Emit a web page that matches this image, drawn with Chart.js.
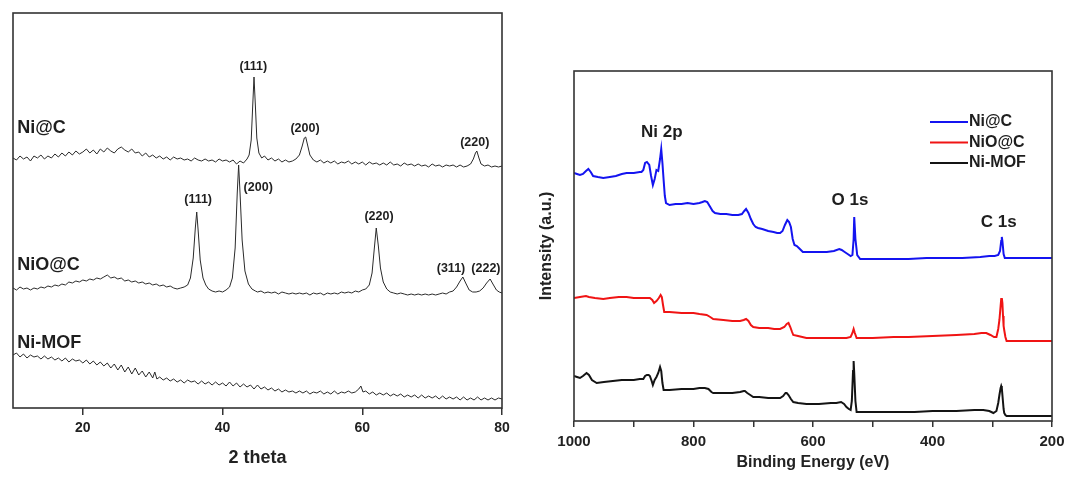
<!DOCTYPE html>
<html lang="en">
<head>
<meta charset="UTF-8">
<title>XRD / XPS</title>
<script src="https://cdn.jsdelivr.net/npm/chart.js"></script>
<style>
  body { margin: 0; background: #fff; }
  #wrap { position: relative; width: 1067px; height: 477px; }
  #xrd { position: absolute; left: 0; top: 0; }
  #xps { position: absolute; left: 520px; top: 0; }
</style>
</head>
<body>
<div id="wrap">
  <canvas id="xrd" width="520" height="477"></canvas>
  <canvas id="xps" width="547" height="477"></canvas>
</div>
<script>
// ---- XRD (left): [2 theta, intensity a.u.] ----
const xrdTicks = [20, 40, 60, 80];
const xrdNiC = [[10,250],[10.5,248],[11,252],[11.5,249],[12,251],[12.5,247],[13,252],[13.5,250],[14,253],[14.5,249],[15,252],[15.5,250],[16,254],[16.5,251],[17,255],[17.5,252],[18,256],[18.5,253],[19,257],[19.5,254],[20,256],[20.5,259],[21,255],[21.5,258],[22,254],[22.5,259],[23,256],[23.5,260],[24,257],[24.5,255],[25,259],[25.5,261],[26,258],[26.5,256],[27,259],[27.5,255],[28,256],[28.5,252],[29,255],[29.5,251],[30,253],[30.5,250],[31,252],[31.5,249],[32,251],[32.5,248],[33,251],[33.5,249],[34,250],[34.5,248],[35,249],[35.5,247],[36,250],[36.5,248],[37,247],[37.5,249],[38,247],[38.5,248],[39,246],[39.5,249],[40,247],[40.5,248],[41,246],[41.5,248],[42,244],[42.5,247],[43,245],[43.5,249],[43.8,253],[44.1,268],[44.3,300],[44.5,331],[44.7,302],[44.9,270],[45.2,255],[45.6,250],[46,252],[46.5,248],[47,250],[47.5,247],[48,249],[48.5,246],[49,248],[49.5,246],[50,247],[50.5,249],[51,253],[51.4,262],[51.7,270],[51.9,271],[52.2,262],[52.5,253],[53,248],[53.5,246],[54,248],[54.5,245],[55,247],[55.5,245],[56,247],[56.5,244],[57,246],[57.5,245],[58,247],[58.5,244],[59,246],[59.5,244],[60,246],[60.5,243],[61,246],[61.5,244],[62,245],[62.5,243],[63,245],[63.5,243],[64,246],[64.5,243],[65,244],[65.5,242],[66,245],[66.5,243],[67,244],[67.5,242],[68,244],[68.5,242],[69,243],[69.5,241],[70,244],[70.5,242],[71,243],[71.5,241],[72,243],[72.5,242],[73,243],[73.5,241],[74,243],[74.5,241],[75,242],[75.5,244],[75.9,249],[76.2,255],[76.4,257],[76.7,250],[77,244],[77.5,242],[78,243],[78.5,241],[79,242],[79.5,241],[80,242]];
const xrdNiOC = [[10,120],[10.5,118],[11,121],[11.5,119],[12,120],[12.5,118],[13,120],[13.5,119],[14,121],[14.5,120],[15,122],[15.5,121],[16,123],[16.5,122],[17,124],[17.5,123],[18,126],[18.5,125],[19,127],[19.5,126],[20,128],[20.5,127],[21,129],[21.5,128],[22,130],[22.5,129],[23,131],[23.5,133],[24,130],[24.5,131],[25,129],[25.5,130],[26,127],[26.5,128],[27,126],[27.5,127],[28,125],[28.5,126],[29,124],[29.5,125],[30,123],[30.5,124],[31,122],[31.5,123],[32,121],[32.5,122],[33,120],[33.5,119],[34,120],[34.5,121],[35,123],[35.4,130],[35.8,150],[36.1,180],[36.3,196],[36.5,178],[36.8,148],[37.2,130],[37.6,123],[38,119],[38.5,117],[39,116],[39.5,117],[40,116],[40.5,118],[41,121],[41.4,130],[41.8,160],[42.1,215],[42.3,243],[42.5,215],[42.8,168],[43.2,137],[43.7,124],[44.2,119],[44.7,117],[45,116],[45.5,117],[46,115],[46.5,116],[47,115],[47.5,116],[48,114],[48.5,116],[49,115],[49.5,114],[50,115],[50.5,114],[51,115],[51.5,114],[52,115],[52.5,113],[53,115],[53.5,114],[54,115],[54.5,113],[55,115],[55.5,114],[56,115],[56.5,114],[57,116],[57.5,115],[58,116],[58.5,115],[59,117],[59.5,116],[60,118],[60.5,119],[61,123],[61.4,135],[61.7,158],[62,180],[62.3,162],[62.6,140],[63,126],[63.5,119],[64,116],[64.5,115],[65,114],[65.5,115],[66,114],[66.5,113],[67,114],[67.5,113],[68,114],[68.5,113],[69,114],[69.5,113],[70,114],[70.5,113],[71,114],[71.5,115],[72,114],[72.5,116],[73,117],[73.5,121],[74,127],[74.4,131],[74.8,125],[75.3,118],[75.8,116],[76.3,116],[76.8,117],[77.3,120],[77.8,125],[78.3,129],[78.7,124],[79.2,118],[79.6,116],[80,115]];
const xrdNiMOF = [[10,53],[10.5,55],[11,51],[11.5,54],[12,50],[12.5,53],[13,51],[13.5,52],[14,49],[14.5,52],[15,49],[15.5,51],[16,48],[16.5,50],[17,47],[17.5,50],[18,46],[18.5,49],[19,47],[19.5,48],[20,45],[20.5,48],[21,44],[21.5,47],[22,43],[22.5,46],[23,42],[23.5,45],[24,40],[24.5,44],[25,38],[25.5,43],[26,36],[26.5,41],[27,34],[27.5,40],[28,33],[28.5,37],[29,31],[29.5,36],[30,30],[30.3,36],[30.6,29],[31,31],[31.5,28],[32,30],[32.5,27],[33,29],[33.5,26],[34,28],[34.5,25],[35,28],[35.5,26],[36,27],[36.5,24],[37,27],[37.5,24],[38,26],[38.5,23],[39,26],[39.5,23],[40,25],[40.5,22],[41,26],[41.5,22],[42,25],[42.5,21],[43,24],[43.5,21],[44,23],[44.5,19],[45,23],[45.5,19],[46,21],[46.5,18],[47,20],[47.5,17],[48,19],[48.5,16],[49,18],[49.5,16],[50,17],[50.5,15],[51,17],[51.5,15],[52,17],[52.5,14],[53,16],[53.5,15],[54,17],[54.5,14],[55,16],[55.5,14],[56,17],[56.5,14],[57,16],[57.5,15],[58,17],[58.5,15],[59,16],[59.5,19],[59.8,22],[60.1,16],[60.5,17],[61,14],[61.5,16],[62,13],[62.5,15],[63,13],[63.5,15],[64,12],[64.5,14],[65,12],[65.5,14],[66,11],[66.5,13],[67,11],[67.5,13],[68,10],[68.5,13],[69,10],[69.5,12],[70,10],[70.5,12],[71,9],[71.5,12],[72,9],[72.5,11],[73,9],[73.5,11],[74,8],[74.5,11],[75,8],[75.5,10],[76,8],[76.5,11],[77,8],[77.5,10],[78,8],[78.5,10],[79,8],[79.5,10],[80,9]];
const xrdNames = [{text:'Ni@C', x:10.6, y:280}, {text:'NiO@C', x:10.6, y:143}, {text:'Ni-MOF', x:10.6, y:65}];
const xrdPeaks = [
  {text:'(111)', x:44.4, y:341}, {text:'(200)', x:51.8, y:279}, {text:'(220)', x:76.1, y:265},
  {text:'(111)', x:36.5, y:208}, {text:'(200)', x:45.1, y:220}, {text:'(220)', x:62.4, y:191},
  {text:'(311)', x:72.7, y:139}, {text:'(222)', x:77.7, y:139}
];

// ---- XPS (right): [binding energy eV, intensity a.u.] ----
const xpsTicks = [1000, 900, 800, 700, 600, 500, 400, 300, 200];
const xpsNiC = [[1000,248],[995,247],[990,246],[985,247],[980,250],[976,252],[972,249],[968,245],[960,244],[951,243],[940,244],[930,245],[920,247],[912,248],[900,248],[890,249],[887,249],[884,251],[881,258],[878,259],[874,256],[871,245],[868,236],[865,242],[862,251],[859,250],[856,262],[854,272],[852,258],[850,241],[848,225],[846,218],[840,216],[830,217],[820,217],[810,218],[800,217],[790,218],[785,219],[781,220],[777,219],[772,214],[768,210],[764,208],[755,207],[745,207],[735,206],[725,206],[719,207],[715,210],[712,212],[708,208],[704,202],[700,197],[696,194],[692,193],[685,192],[675,190],[666,189],[660,188],[655,188],[651,190],[647,196],[643,201],[640,199],[637,194],[634,182],[631,176],[627,175],[622,172],[617,169],[612,169],[600,169],[590,169],[577,169],[565,170],[556,172],[552,171],[547,169],[542,167],[537,165],[534,166],[532,182],[531,204],[529,182],[526,166],[521,162],[510,162],[490,162],[465,162],[440,162],[410,163],[380,163],[350,163],[320,164],[305,165],[296,165],[290,166],[287,170],[285,180],[284,184],[283,180],[281,167],[279,163],[276,163],[260,163],[240,163],[220,163],[200,163]];
const xpsNiOC = [[1000,123],[990,124],[980,125],[975,124],[965,123],[951,122],[940,123],[925,124],[912,124],[900,123],[885,123],[873,123],[869,121],[866,118],[862,120],[858,123],[855,126],[853,124],[851,116],[849,109],[840,109],[820,108],[800,108],[790,107],[778,106],[772,104],[767,102],[750,101],[735,100],[722,100],[716,101],[712,102],[708,100],[704,96],[700,94],[690,93],[675,93],[665,92],[655,92],[648,94],[644,97],[641,98],[638,94],[635,89],[633,86],[625,85],[611,83],[600,83],[580,83],[560,83],[544,83],[537,84],[534,88],[532,92],[530,88],[527,83],[520,83],[500,83],[465,84],[440,84],[400,85],[360,86],[330,87],[318,88],[310,88],[303,86],[297,84],[293,84],[290,92],[288,101],[286,115],[285,122],[284,123],[283,118],[282,105],[281,95],[280,91],[278,84],[276,80],[260,80],[240,80],[220,80],[200,80]];
const xpsNiMOF = [[1000,45],[995,44],[990,43],[985,45],[979,48],[975,46],[970,41],[962,38],[950,39],[935,40],[920,41],[912,41],[900,41],[890,42],[884,42],[881,45],[878,46],[875,46],[873,45],[870,40],[868,36],[865,41],[862,44],[859,48],[856,54],[854,50],[852,38],[850,31],[840,31],[820,32],[800,32],[790,33],[781,33],[775,32],[770,29],[767,28],[750,28],[735,28],[722,29],[716,30],[714,30],[710,28],[705,26],[700,24],[690,24],[675,23],[665,23],[655,23],[650,25],[646,28],[644,28],[641,26],[637,22],[633,19],[625,18],[611,17],[590,17],[570,18],[561,18],[553,19],[548,17],[544,14],[540,12],[537,11],[535,20],[533,50],[532,60],[531,48],[529,20],[527,9],[520,9],[500,9],[465,9],[430,9],[400,10],[360,10],[330,11],[315,11],[305,10],[298,8],[293,10],[290,18],[288,26],[286,33],[285,35],[284,33],[283,26],[281,12],[280,8],[278,6],[276,5],[260,5],[240,5],[220,5],[200,5]];
const xpsPeaks = [{text:'Ni 2p', x:853, y:289}, {text:'O 1s', x:538, y:221}, {text:'C 1s', x:289, y:199}];

const FONT = 'Arial, "Liberation Sans", sans-serif';
const pts = arr => arr.map(p => ({x: p[0], y: p[1]}));

// marco + etiquetas + leyenda dibujados sobre el area del grafico
function decor(id, texts, legend) {
  return {
    id: id,
    afterDatasetsDraw(chart) {
      const {ctx, chartArea: a, scales: {x, y}} = chart;
      ctx.save();
      ctx.strokeStyle = '#333';
      ctx.lineWidth = 1.6;
      ctx.strokeRect(a.left, a.top, a.right - a.left, a.bottom - a.top);
      ctx.fillStyle = '#1e1e1e';
      ctx.textBaseline = 'middle';
      texts.forEach(g => {
        ctx.font = 'bold ' + g.size + 'px ' + FONT;
        ctx.textAlign = g.align;
        g.items.forEach(t => ctx.fillText(t.text, x.getPixelForValue(t.x), y.getPixelForValue(t.y)));
      });
      if (legend) {
        ctx.font = 'bold 16px ' + FONT;
        ctx.textAlign = 'left';
        chart.data.datasets.forEach((ds, i) => {
          const ly = a.top + 51 + i * 20.5;
          ctx.strokeStyle = ds.borderColor;
          ctx.lineWidth = 2;
          ctx.beginPath();
          ctx.moveTo(a.right - 122, ly);
          ctx.lineTo(a.right - 84, ly);
          ctx.stroke();
          ctx.fillStyle = '#1e1e1e';
          ctx.fillText(ds.label, a.right - 83, ly);
        });
      }
      ctx.restore();
    }
  };
}

new Chart(document.getElementById('xrd'), {
  type: 'line',
  data: {
    datasets: [
      {label: 'Ni@C', data: pts(xrdNiC)},
      {label: 'NiO@C', data: pts(xrdNiOC)},
      {label: 'Ni-MOF', data: pts(xrdNiMOF)}
    ].map(d => Object.assign(d, {borderColor: '#2a2a2a', borderWidth: 1, pointRadius: 0, tension: 0}))
  },
  options: {
    responsive: false,
    animation: false,
    layout: {padding: {left: 13, top: 13, right: 18, bottom: 0}},
    plugins: {legend: {display: false}, tooltip: {enabled: false}},
    scales: {
      x: {
        type: 'linear', min: 10, max: 80,
        afterBuildTicks: s => { s.ticks = xrdTicks.map(v => ({value: v})); },
        afterFit: s => { s.height = 69; },
        grid: {drawOnChartArea: false, drawTicks: true, tickLength: 7, color: '#333', lineWidth: 1.5},
        border: {display: false},
        ticks: {autoSkip: false, maxRotation: 0, padding: 5, color: '#222', font: {family: FONT, size: 14, weight: 'bold'}},
        title: {display: true, text: '2 theta', color: '#222', font: {family: FONT, size: 18, weight: 'bold'}, padding: {top: 0, bottom: 8}}
      },
      y: {display: false, min: 0, max: 395}
    }
  },
  plugins: [decor('decorXrd', [
    {size: 18, align: 'left', items: xrdNames},
    {size: 12.5, align: 'center', items: xrdPeaks}
  ], false)]
});

new Chart(document.getElementById('xps'), {
  type: 'line',
  data: {
    datasets: [
      {label: 'Ni@C', data: pts(xpsNiC), borderColor: '#1414f0'},
      {label: 'NiO@C', data: pts(xpsNiOC), borderColor: '#f01414'},
      {label: 'Ni-MOF', data: pts(xpsNiMOF), borderColor: '#141414'}
    ].map(d => Object.assign(d, {borderWidth: 2, pointRadius: 0, tension: 0}))
  },
  options: {
    responsive: false,
    animation: false,
    layout: {padding: {left: 0, top: 71, right: 15, bottom: 0}},
    plugins: {legend: {display: false}, tooltip: {enabled: false}},
    scales: {
      x: {
        type: 'linear', min: 200, max: 1000, reverse: true,
        afterBuildTicks: s => { s.ticks = xpsTicks.map(v => ({value: v})); },
        afterFit: s => { s.height = 56; s.paddingLeft = 0; s.paddingRight = 0; },
        grid: {drawOnChartArea: false, drawTicks: true, tickLength: 6, color: '#333', lineWidth: 1.5},
        border: {display: false},
        ticks: {
          autoSkip: false, maxRotation: 0, padding: 6, color: '#222',
          font: {family: FONT, size: 15, weight: 'bold'},
          callback: v => (v % 200 === 0 ? v : '')
        },
        title: {display: true, text: 'Binding Energy (eV)', color: '#222', font: {family: FONT, size: 16, weight: 'bold'}, padding: {top: 0, bottom: 5}}
      },
      y: {
        min: 0, max: 350,
        afterFit: s => { s.width = 54; },
        ticks: {display: false},
        grid: {display: false, drawTicks: false},
        border: {display: false},
        title: {display: true, text: 'Intensity (a.u.)', color: '#222', font: {family: FONT, size: 16, weight: 'bold'}, padding: {top: 17, bottom: 0}}
      }
    }
  },
  plugins: [decor('decorXps', [
    {size: 17, align: 'center', items: xpsPeaks}
  ], true)]
});
</script>
</body>
</html>
